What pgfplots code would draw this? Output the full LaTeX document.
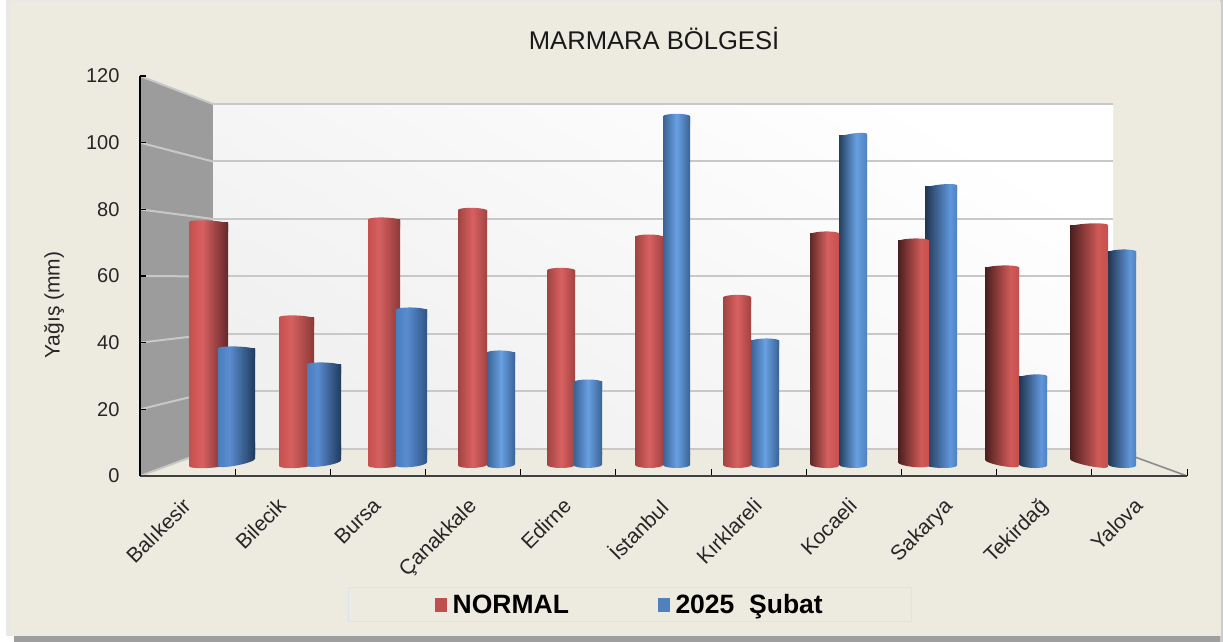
\documentclass[border=0pt]{standalone}
\usepackage{pgfplots}
\pgfplotsset{compat=1.18}
\usepackage{fontspec}
\setmainfont{Liberation Sans}
\definecolor{panel}{HTML}{EDEBE0}
\definecolor{wallgrid}{HTML}{C8C8C8}
\definecolor{legR}{HTML}{C0504D}
\definecolor{legB}{HTML}{4F81BD}
\definecolor{legBox}{HTML}{DCE3EC}
\newcommand{\mks}[5]{\definecolor{#1a}{HTML}{#2}\definecolor{#1b}{HTML}{#4}\definecolor{#1c}{HTML}{#5}%
  \pgfdeclarehorizontalshading{#1}{100bp}{color(0bp)=(#1a); color(25bp)=(#1a); color(#3bp)=(#1b); color(75bp)=(#1c); color(100bp)=(#1c)}}
\mks{redA}{C5504E}{42}{D96060}{63282A}
\mks{redB}{C5504E}{42}{D66060}{8B3A38}
\mks{redC}{A04442}{50}{D96060}{A04442}
\mks{redD}{5E2826}{55}{D66060}{C5504E}
\mks{redE}{4A1E1E}{62}{D05A58}{C5504E}
\mks{bluA}{4A7DBE}{40}{5A8DD0}{1F3A5C}
\mks{bluB}{4A7DBE}{42}{5A8DD0}{2E5585}
\mks{bluC}{3A6395}{50}{68A0E2}{3A6395}
\mks{bluD}{23405F}{56}{68A0E2}{4F81BD}
\mks{bluE}{1F3550}{64}{6096DB}{4F81BD}
\pgfkeys{/cap/w/.initial=20,/cap/s/.initial=redC,/cap/k/.initial=0,/cap/d/.initial=0}
\pgfdeclareplotmark{captop}{%
  \edef\capS{\pgfkeysvalueof{/cap/s}}\edef\capW{\pgfkeysvalueof{/cap/w}}\edef\capK{\pgfkeysvalueof{/cap/k}}%
  \pgftransformcm{1}{\capK}{0}{1}{\pgfpointorigin}%
  \path[shade,shading=\capS] (-\capW pt,-8pt) -- (-\capW pt,0pt)
    arc[start angle=180,end angle=0,x radius=\capW pt,y radius=2.5pt] -- (\capW pt,-8pt) -- cycle;}
\pgfdeclareplotmark{capbot}{%
  \edef\capS{\pgfkeysvalueof{/cap/s}}\edef\capW{\pgfkeysvalueof{/cap/w}}\edef\capK{\pgfkeysvalueof{/cap/k}}\edef\capD{\pgfkeysvalueof{/cap/d}}%
  \pgfmathsetmacro\capT{\capD+2+2*abs(\capK)*\capW}%
  \pgftransformyshift{-\capD pt}%
  \pgftransformcm{1}{\capK}{0}{1}{\pgfpointorigin}%
  \path[shade,shading=\capS] (-\capW pt,\capT pt) -- (-\capW pt,0pt)
    arc[start angle=180,end angle=360,x radius=\capW pt,y radius=3pt] -- (\capW pt,\capT pt) -- cycle;}
% \cyl{x}{value}{half width}{shading}{top slope}{base drop}{base slope}
\newcommand{\cyl}[7]{%
  \addplot[forget plot,ybar,bar shift=0pt,bar width=#3*2pt,draw=none,shade,shading=#4] coordinates {(#1,#2)};
  \addplot[forget plot,only marks,draw=none,mark=capbot,mark options={/cap/w=#3,/cap/s=#4,/cap/k=#7,/cap/d=#6}] coordinates {(#1,6.4)};
  \addplot[forget plot,only marks,draw=none,mark=captop,mark options={/cap/w=#3,/cap/s=#4,/cap/k=#5}] coordinates {(#1,#2)};
}
\begin{document}
\begin{tikzpicture}[x=1pt,y=1pt]
\fill[white] (0,0) rectangle (1223,642);
\fill[gray!18] (6,6) rectangle (1223,642);
\fill[black!38] (14,0) rectangle (1223,10);
\fill[black!20] (1220,0) rectangle (1223,642);
\fill[panel] (10,6) rectangle (1221,640);
\useasboundingbox (0,0) rectangle (1223,642);

\begin{axis}[
  at={(140pt,166pt)},anchor=south west,
  scale only axis,width=1047pt,height=400pt,
  xmin=-0.5,xmax=10.5,ymin=0,ymax=120,
  axis on top,clip=false,
  axis x line*=bottom,axis y line*=left,
  axis line style={-},
  x axis line style={draw=black!75,line width=1.6pt},
  y axis line style={draw=black,line width=2pt},
  xtick={0,1,2,3,4,5,6,7,8,9,10},
  xticklabels={Balıkesir,Bilecik,Bursa,Çanakkale,Edirne,İstanbul,Kırklareli,Kocaeli,Sakarya,Tekirdağ,Yalova},
  minor xtick={-0.5,0.5,1.5,2.5,3.5,4.5,5.5,6.5,7.5,8.5,9.5,10.5},
  ytick={0,20,40,60,80,100,120},
  tick align=inside,
  major x tick style={draw=none},
  minor x tick style={draw=black,line width=1pt},
  minor tick length=7pt,
  major y tick style={draw=black,line width=1.2pt},
  major tick length=6pt,
  /pgf/number format/assume math mode=true,
  y tick label style={font=\fontsize{20}{24}\selectfont,text=black!85,xshift=-17pt,anchor=east},
  x tick label style={font=\fontsize{21}{24}\selectfont,text=black!85,rotate=45,anchor=north east,inner sep=0pt,xshift=-19pt,yshift=-10pt},
  title={MARMARA BÖLGESİ},
  title style={at={(axis description cs:0.491,1.0775)},anchor=center,font=\fontsize{25.6}{30}\selectfont,text=black!90},
  ylabel={Yağış (mm)},
  ylabel style={at={(axis description cs:-0.082,0.4275)},anchor=center,font=\fontsize{21}{25}\selectfont,text=black!85},
]
% side wall, back wall, floor
\addplot[forget plot,draw=none,fill=black!39] coordinates {(-0.5,0) (-0.5,120) (0.267,111.6) (0.267,8.1)} --cycle;
\addplot[forget plot,draw=none,shade,shading=axis,top color=white,bottom color=black!6,shading angle=-30] coordinates {(0.267,8.1) (0.267,111.6) (9.723,111.6) (9.723,8.1)} --cycle;
% grid on back wall
\addplot[forget plot,wallgrid,line width=2pt] coordinates {(0.267,111.6) (9.723,111.6)};
\addplot[forget plot,wallgrid,line width=2pt] coordinates {(0.267,94.35) (9.723,94.35)};
\addplot[forget plot,wallgrid,line width=2pt] coordinates {(0.267,77.1) (9.723,77.1)};
\addplot[forget plot,wallgrid,line width=2pt] coordinates {(0.267,59.85) (9.723,59.85)};
\addplot[forget plot,wallgrid,line width=2pt] coordinates {(0.267,42.6) (9.723,42.6)};
\addplot[forget plot,wallgrid,line width=2pt] coordinates {(0.267,25.35) (9.723,25.35)};
\addplot[forget plot,wallgrid,line width=2pt] coordinates {(0.267,8.1) (9.723,8.1)};
% grid on side wall
\addplot[forget plot,wallgrid,line width=2pt] coordinates {(-0.5,120) (0.267,111.6)};
\addplot[forget plot,wallgrid,line width=2pt] coordinates {(-0.5,100) (0.267,94.35)};
\addplot[forget plot,wallgrid,line width=2pt] coordinates {(-0.5,80) (0.267,77.1)};
\addplot[forget plot,wallgrid,line width=2pt] coordinates {(-0.5,60) (0.267,59.85)};
\addplot[forget plot,wallgrid,line width=2pt] coordinates {(-0.5,40) (0.267,42.6)};
\addplot[forget plot,wallgrid,line width=2pt] coordinates {(-0.5,20) (0.267,25.35)};
\addplot[forget plot,wallgrid,line width=2pt] coordinates {(-0.5,0) (0.267,8.1)};
\addplot[forget plot,black!45,line width=1.6pt] coordinates {(9.723,8.1) (10.5,0)};
\end{axis}

\begin{axis}[
  at={(140pt,187pt)},anchor=south west,
  scale only axis,width=1047pt,height=379pt,
  xmin=-0.5,xmax=10.5,ymin=6.3,ymax=120,
  hide axis,
  legend columns=2,
  legend cell align=left,
  legend image code/.code={\path[#1,draw=none] (-3pt,-7.5pt) rectangle (9pt,7pt);\path (12pt,0pt);},
  legend style={at={(axis description cs:0.468,-0.3945)},anchor=center,
    draw=legBox,fill=none,line width=1pt,inner xsep=86.5pt,inner ysep=5pt,
    font=\fontsize{26.5}{30}\selectfont\bfseries,
    /tikz/every even column/.append style={column sep=87pt},
    nodes={inner sep=2pt}},
]
\addlegendimage{fill=legR}\addlegendentry{NORMAL}
\addlegendimage{fill=legB}\addlegendentry{2025~~Şubat}
\cyl{0.2197}{75.9}{19.5}{redA}{-0.05}{10.3}{0.06}
\cyl{0.5139}{38.1}{18.5}{bluA}{-0.03}{7.8}{0.19}
\cyl{1.1443}{47.4}{17.5}{redB}{-0.04}{10.3}{0.06}
\cyl{1.4332}{33.3}{17}{bluA}{-0.03}{8.3}{0.15}
\cyl{2.0636}{76.8}{16}{redB}{-0.03}{10.3}{0.04}
\cyl{2.3525}{49.8}{15.5}{bluB}{-0.02}{9.3}{0.10}
\cyl{2.9934}{79.7}{14.5}{redC}{-0.02}{10.3}{0.03}
\cyl{3.2928}{36.9}{14}{bluC}{-0.02}{10.3}{0.05}
\cyl{3.9232}{61.7}{14}{redC}{0}{10.3}{0}
\cyl{4.2069}{28.2}{14}{bluC}{0}{10.3}{0.02}
\cyl{4.8478}{71.7}{14}{redC}{0}{10.3}{0}
\cyl{5.1367}{107.9}{13.5}{bluC}{0}{10.3}{0}
\cyl{5.7724}{53.6}{14}{redC}{0.01}{10.3}{0}
\cyl{6.0666}{40.5}{14}{bluC}{0.02}{10.3}{0}
\cyl{6.6917}{72.6}{14.5}{redD}{0.03}{10.3}{-0.05}
\cyl{6.9911}{102}{14}{bluD}{0.14}{10.3}{-0.02}
\cyl{7.9157}{86.7}{16}{bluE}{0.1}{10.3}{-0.03}
\cyl{7.6268}{70.5}{15.5}{redE}{0.03}{9.3}{-0.10}
\cyl{8.8823}{29.7}{14}{bluE}{0.06}{10.3}{-0.04}
\cyl{8.5566}{62.4}{17}{redE}{0.03}{8.3}{-0.18}
\cyl{9.8175}{67.2}{14}{bluE}{0.03}{10.3}{-0.04}
\cyl{9.4706}{75}{19}{redE}{0.05}{8.3}{-0.2}
\end{axis}
\end{tikzpicture}
\end{document}
